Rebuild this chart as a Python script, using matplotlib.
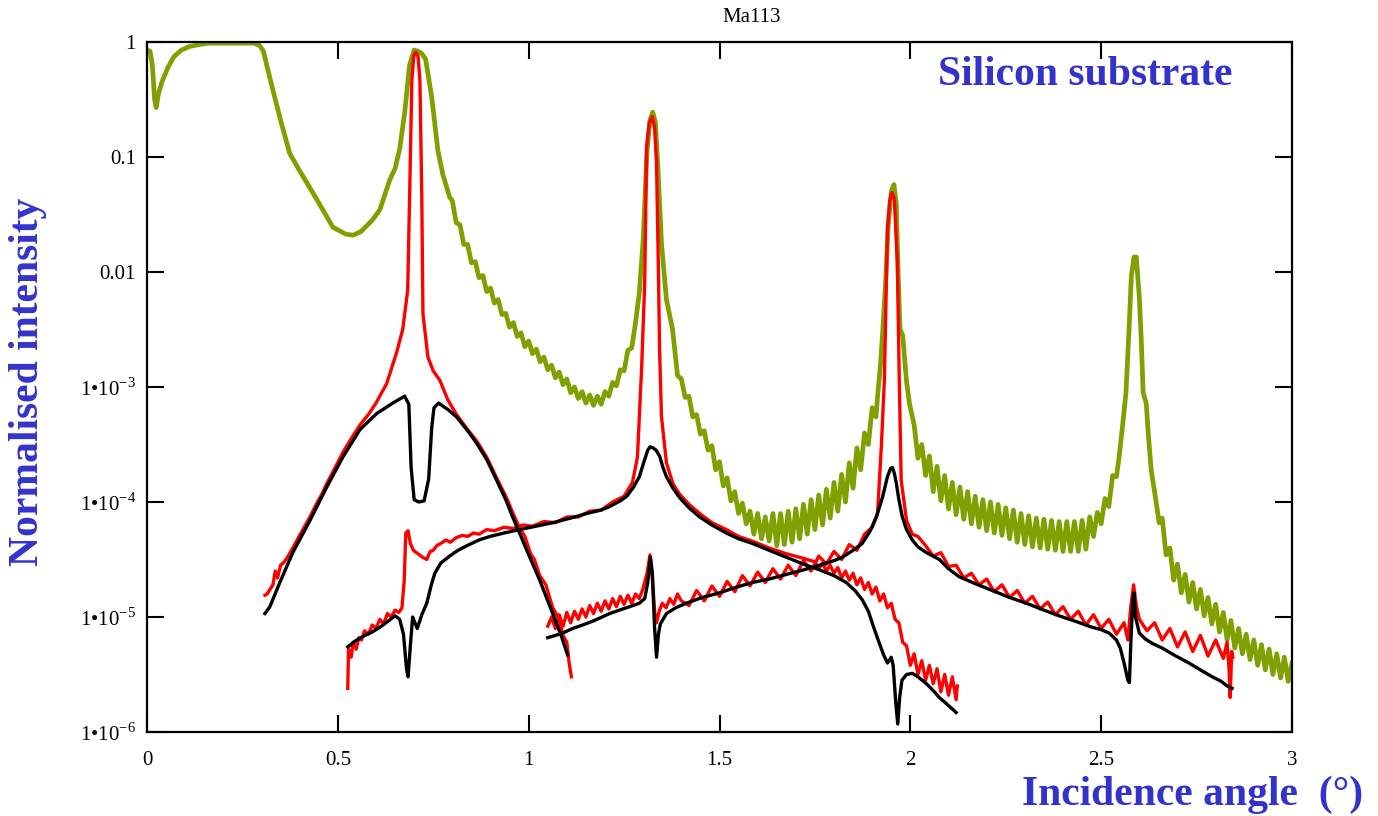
import matplotlib
matplotlib.use("Agg")
import matplotlib.pyplot as plt
from matplotlib.ticker import NullLocator
import numpy as np

plt.rcParams["font.family"] = ["Liberation Serif", "DejaVu Serif"]
plt.rcParams["mathtext.fontset"] = "custom"
plt.rcParams["mathtext.rm"] = "Liberation Serif"

# ---- data (angle in degrees, intensity as log10) ----

# silicon substrate reflectivity (green), smooth part up to the first Bragg peak
green_x0 = [0.000, 0.008, 0.014, 0.020, 0.024, 0.030, 0.040, 0.055, 0.070, 0.090,
            0.110, 0.140, 0.160, 0.280, 0.295, 0.305, 0.315, 0.330, 0.350, 0.374,
            0.400, 0.445, 0.487, 0.520, 0.540, 0.560, 0.590, 0.610, 0.636, 0.650,
            0.662, 0.675, 0.688, 0.700, 0.710, 0.720, 0.730, 0.746, 0.762, 0.775,
            0.785, 0.793]
green_log0 = [-0.07, -0.08, -0.20, -0.50, -0.57, -0.45, -0.34, -0.22, -0.13, -0.07,
              -0.04, -0.02, -0.01, -0.01, -0.03, -0.08, -0.22, -0.42, -0.68, -0.97,
              -1.12, -1.37, -1.61, -1.67, -1.68, -1.65, -1.55, -1.46, -1.20, -1.10,
              -0.93, -0.62, -0.20, -0.07, -0.08, -0.10, -0.15, -0.48, -0.94, -1.15,
              -1.26, -1.35]
# fringes 0.80 -> 1.28 (0.01 steps)
green_log1 = [-1.38, -1.57, -1.59, -1.76, -1.76, -1.92, -1.91, -2.05, -2.03, -2.17,
              -2.14, -2.27, -2.24, -2.37, -2.36, -2.48, -2.44, -2.56, -2.53, -2.65,
              -2.60, -2.71, -2.67, -2.78, -2.74, -2.85, -2.81, -2.92, -2.87, -2.98,
              -2.93, -3.05, -3.00, -3.10, -3.04, -3.14, -3.07, -3.16, -3.08, -3.15,
              -3.04, -3.08, -2.96, -2.99, -2.85, -2.86, -2.68, -2.66, -2.44]
green_x2 = [1.290, 1.300, 1.310, 1.318, 1.325, 1.332, 1.338, 1.348, 1.361, 1.377, 1.390]
green_log2 = [-2.18, -1.72, -0.95, -0.68, -0.61, -0.70, -1.05, -1.75, -2.24, -2.50, -2.90]
# fringes 1.40 -> 1.91
green_log3 = [-2.93, -3.09, -3.08, -3.26, -3.24, -3.41, -3.38, -3.55, -3.51, -3.72,
              -3.65, -3.86, -3.79, -3.99, -3.91, -4.10, -4.01, -4.19, -4.08, -4.28,
              -4.10, -4.32, -4.13, -4.34, -4.10, -4.38, -4.10, -4.37, -4.08, -4.35,
              -4.06, -4.32, -4.02, -4.28, -3.98, -4.24, -3.94, -4.20, -3.89, -4.14,
              -3.83, -4.08, -3.76, -4.00, -3.66, -3.88, -3.53, -3.72, -3.40, -3.50,
              -3.18, -3.26]
green_x4 = [1.915, 1.922, 1.928, 1.935, 1.942, 1.950, 1.957, 1.963, 1.968, 1.973,
            1.980, 1.990, 1.998]
green_log4 = [-3.05, -2.80, -2.50, -2.10, -1.60, -1.30, -1.24, -1.40, -2.00, -2.50,
              -2.55, -2.95, -3.15]
# fringes 2.01 -> 2.54
green_log5 = [-3.33, -3.62, -3.50, -3.77, -3.60, -3.91, -3.69, -3.99, -3.77, -4.06,
              -3.83, -4.11, -3.87, -4.15, -3.91, -4.19, -3.95, -4.22, -3.98, -4.25,
              -4.00, -4.27, -4.02, -4.29, -4.05, -4.32, -4.07, -4.35, -4.10, -4.37,
              -4.12, -4.39, -4.14, -4.40, -4.15, -4.41, -4.16, -4.42, -4.17, -4.43,
              -4.17, -4.43, -4.17, -4.43, -4.16, -4.41, -4.13, -4.30, -4.09, -4.19,
              -3.97, -4.04, -3.77, -3.78]
green_x6 = [2.547, 2.555, 2.565, 2.573, 2.579, 2.586, 2.592, 2.600, 2.605, 2.610,
            2.618, 2.624, 2.631, 2.644, 2.652]
green_log6 = [-3.61, -3.37, -3.05, -2.50, -2.04, -1.87, -1.87, -2.22, -2.59, -3.05,
              -3.14, -3.43, -3.72, -4.00, -4.18]
# fringes 2.66 -> 3.00
green_log7 = [-4.14, -4.46, -4.40, -4.68, -4.54, -4.79, -4.63, -4.87, -4.70, -4.93,
              -4.76, -4.99, -4.83, -5.06, -4.89, -5.13, -4.96, -5.20, -5.03, -5.27,
              -5.10, -5.32, -5.15, -5.37, -5.20, -5.42, -5.24, -5.46, -5.28, -5.50,
              -5.32, -5.53, -5.35, -5.56, -5.40]

# first order scan: measured (red) and simulated (black)
red1_x = [0.309, 0.315, 0.322, 0.330, 0.336, 0.342, 0.350, 0.360, 0.370, 0.382,
          0.395, 0.410, 0.427, 0.445, 0.460, 0.471, 0.490, 0.513, 0.535, 0.558,
          0.580, 0.600, 0.628, 0.654, 0.670, 0.683, 0.688, 0.694, 0.699, 0.704,
          0.710, 0.715, 0.720, 0.723, 0.736, 0.750, 0.767, 0.788, 0.811, 0.840,
          0.864, 0.890, 0.916, 0.940, 0.958, 0.975, 0.990, 1.005, 1.015, 1.029,
          1.045, 1.063, 1.080, 1.090, 1.100, 1.106, 1.112]
red1_log = [-4.81, -4.80, -4.76, -4.72, -4.60, -4.66, -4.55, -4.52, -4.47, -4.40,
            -4.32, -4.23, -4.13, -4.01, -3.92, -3.84, -3.72, -3.57, -3.45, -3.33,
            -3.24, -3.14, -2.97, -2.70, -2.50, -2.16, -1.35, -0.33, -0.12, -0.09,
            -0.12, -0.33, -1.35, -2.36, -2.74, -2.86, -2.94, -3.11, -3.24, -3.37,
            -3.47, -3.61, -3.79, -3.95, -4.09, -4.22, -4.30, -4.45, -4.50, -4.64,
            -4.72, -4.92, -5.02, -5.16, -5.22, -5.40, -5.52]
black1_x = [0.309, 0.322, 0.348, 0.382, 0.427, 0.471, 0.513, 0.558, 0.602, 0.644,
            0.675, 0.686, 0.692, 0.700, 0.712, 0.726, 0.738, 0.746, 0.752, 0.764,
            0.790, 0.811, 0.840, 0.864, 0.890, 0.916, 0.940, 0.958, 0.980, 0.995,
            1.029, 1.063, 1.086, 1.102]
black1_log = [-4.97, -4.91, -4.70, -4.44, -4.16, -3.87, -3.61, -3.37, -3.23, -3.14,
              -3.08, -3.15, -3.70, -3.98, -4.00, -3.99, -3.80, -3.35, -3.18, -3.14,
              -3.20, -3.26, -3.38, -3.49, -3.63, -3.81, -3.98, -4.13, -4.30, -4.42,
              -4.68, -4.97, -5.17, -5.33]

# second order scan
red2_x = [0.526, 0.528, 0.535, 0.540, 0.548, 0.555, 0.562, 0.570, 0.580, 0.590,
          0.600, 0.610, 0.620, 0.630, 0.640, 0.650, 0.660, 0.668, 0.674, 0.678,
          0.684, 0.690, 0.698, 0.710, 0.722, 0.733, 0.742, 0.750, 0.759, 0.770,
          0.783, 0.795, 0.810, 0.827, 0.840, 0.855, 0.870, 0.890, 0.910, 0.935,
          0.960, 0.985, 1.010, 1.040, 1.070, 1.100, 1.130, 1.160, 1.190, 1.220,
          1.250, 1.272, 1.285, 1.296, 1.304, 1.309, 1.316, 1.324, 1.330, 1.335,
          1.340, 1.343, 1.348, 1.361, 1.378, 1.395, 1.420, 1.448, 1.480, 1.518,
          1.550, 1.586, 1.630, 1.675, 1.720, 1.750, 1.760, 1.770, 1.780, 1.790,
          1.800, 1.810, 1.820, 1.830, 1.840, 1.850, 1.860, 1.870, 1.880, 1.890,
          1.900, 1.910, 1.920, 1.930, 1.940, 1.950, 1.960, 1.970, 1.980, 1.990,
          2.000, 2.010, 2.020, 2.030, 2.040, 2.050, 2.060, 2.070, 2.080, 2.090,
          2.100, 2.110, 2.120, 2.123]
red2_log = [-5.62, -5.28, -5.35, -5.22, -5.28, -5.18, -5.20, -5.12, -5.15, -5.07,
            -5.10, -5.02, -5.06, -4.97, -5.00, -4.94, -4.96, -4.92, -4.68, -4.27,
            -4.25, -4.36, -4.42, -4.45, -4.48, -4.50, -4.43, -4.42, -4.38, -4.36,
            -4.33, -4.35, -4.31, -4.29, -4.30, -4.27, -4.28, -4.24, -4.25, -4.22,
            -4.23, -4.20, -4.21, -4.17, -4.18, -4.13, -4.13, -4.08, -4.07, -4.00,
            -3.95, -3.83, -3.61, -2.83, -2.10, -0.91, -0.70, -0.65, -0.75, -1.05,
            -2.00, -2.68, -3.26, -3.66, -3.84, -3.93, -4.02, -4.10, -4.18, -4.24,
            -4.30, -4.34, -4.40, -4.45, -4.49, -4.52, -4.58, -4.53, -4.60, -4.55,
            -4.62, -4.57, -4.66, -4.60, -4.68, -4.62, -4.72, -4.66, -4.76, -4.70,
            -4.80, -4.74, -4.86, -4.80, -4.92, -4.88, -5.02, -5.05, -5.22, -5.25,
            -5.42, -5.32, -5.50, -5.38, -5.55, -5.42, -5.58, -5.45, -5.65, -5.50,
            -5.68, -5.52, -5.72, -5.60]
black2_x = [0.526, 0.545, 0.565, 0.590, 0.610, 0.630, 0.650, 0.662, 0.672, 0.680,
            0.684, 0.690, 0.696, 0.702, 0.708, 0.720, 0.733, 0.745, 0.754, 0.770,
            0.793, 0.815, 0.838, 0.870, 0.898, 0.935, 0.976, 1.020, 1.063, 1.110,
            1.152, 1.190, 1.212, 1.240, 1.257, 1.275, 1.290, 1.302, 1.312, 1.318,
            1.326, 1.334, 1.343, 1.352, 1.361, 1.378, 1.395, 1.420, 1.448, 1.480,
            1.518, 1.550, 1.586, 1.630, 1.675, 1.720, 1.762, 1.800, 1.832, 1.855,
            1.874, 1.890, 1.905, 1.919, 1.930, 1.940, 1.950, 1.955, 1.962, 1.967,
            1.972, 1.978, 1.990, 2.005, 2.020, 2.042, 2.060, 2.076, 2.100, 2.120]
black2_log = [-5.26, -5.21, -5.17, -5.13, -5.09, -5.04, -4.99, -5.02, -5.15, -5.45,
              -5.52, -5.25, -5.00, -5.05, -5.10, -4.98, -4.88, -4.72, -4.62, -4.53,
              -4.47, -4.42, -4.38, -4.33, -4.30, -4.27, -4.24, -4.21, -4.18, -4.14,
              -4.10, -4.07, -4.04, -3.99, -3.95, -3.87, -3.78, -3.65, -3.55, -3.52,
              -3.53, -3.55, -3.60, -3.70, -3.78, -3.88, -3.96, -4.05, -4.13, -4.20,
              -4.27, -4.32, -4.36, -4.42, -4.48, -4.54, -4.59, -4.64, -4.70, -4.77,
              -4.85, -4.95, -5.10, -5.23, -5.33, -5.40, -5.35, -5.42, -5.75, -5.93,
              -5.70, -5.55, -5.50, -5.49, -5.52, -5.58, -5.64, -5.70, -5.77, -5.83]

# third order scan
red3_x = [1.050, 1.060, 1.070, 1.080, 1.090, 1.100, 1.110, 1.120, 1.130, 1.140,
          1.150, 1.160, 1.170, 1.180, 1.190, 1.200, 1.210, 1.220, 1.230, 1.240,
          1.250, 1.260, 1.270, 1.280, 1.290, 1.300, 1.310, 1.318, 1.324, 1.330,
          1.335, 1.342, 1.350, 1.360, 1.370, 1.380, 1.390, 1.400, 1.420, 1.440,
          1.460, 1.480, 1.500, 1.520, 1.540, 1.560, 1.580, 1.600, 1.620, 1.640,
          1.660, 1.680, 1.700, 1.720, 1.740, 1.760, 1.780, 1.800, 1.820, 1.840,
          1.860, 1.880, 1.900, 1.914, 1.924, 1.932, 1.940, 1.946, 1.952, 1.958,
          1.966, 1.971, 1.976, 1.990, 2.005, 2.020, 2.040, 2.060, 2.080, 2.100,
          2.120, 2.140, 2.160, 2.180, 2.200, 2.220, 2.240, 2.260, 2.280, 2.300,
          2.320, 2.340, 2.360, 2.380, 2.400, 2.420, 2.440, 2.460, 2.480, 2.500,
          2.520, 2.540, 2.560, 2.570, 2.578, 2.585, 2.592, 2.600, 2.620, 2.640,
          2.660, 2.680, 2.700, 2.720, 2.740, 2.760, 2.780, 2.800, 2.820, 2.830,
          2.835, 2.838, 2.842, 2.845]
red3_log = [-5.08, -5.00, -5.10, -4.98, -5.08, -4.96, -5.05, -4.95, -5.02, -4.93,
            -5.00, -4.90, -4.97, -4.88, -4.95, -4.86, -4.93, -4.84, -4.91, -4.82,
            -4.89, -4.81, -4.88, -4.80, -4.84, -4.75, -4.62, -4.46, -4.65, -4.95,
            -5.05, -4.95, -4.88, -4.92, -4.84, -4.89, -4.80, -4.86, -4.90, -4.77,
            -4.86, -4.73, -4.82, -4.69, -4.78, -4.64, -4.73, -4.61, -4.70, -4.58,
            -4.67, -4.55, -4.64, -4.51, -4.60, -4.47, -4.54, -4.43, -4.50, -4.37,
            -4.42, -4.28, -4.22, -4.10, -3.52, -2.94, -1.63, -1.38, -1.31, -1.36,
            -1.92, -2.94, -3.81, -4.16, -4.28, -4.30, -4.38, -4.47, -4.44, -4.56,
            -4.55, -4.66, -4.62, -4.72, -4.67, -4.78, -4.72, -4.83, -4.77, -4.88,
            -4.82, -4.93, -4.87, -4.98, -4.91, -5.02, -4.95, -5.07, -4.98, -5.10,
            -5.02, -5.15, -5.05, -5.20, -4.90, -4.72, -4.90, -5.02, -5.12, -5.05,
            -5.20, -5.10, -5.26, -5.13, -5.30, -5.16, -5.34, -5.20, -5.36, -5.22,
            -5.45, -5.70, -5.30, -5.35]
black3_x = [1.050, 1.070, 1.089, 1.115, 1.141, 1.165, 1.186, 1.212, 1.238, 1.265,
            1.290, 1.304, 1.312, 1.319, 1.324, 1.330, 1.335, 1.340, 1.345, 1.361,
            1.385, 1.413, 1.455, 1.500, 1.545, 1.586, 1.630, 1.675, 1.720, 1.762,
            1.800, 1.822, 1.850, 1.874, 1.895, 1.911, 1.927, 1.940, 1.948, 1.953,
            1.958, 1.963, 1.970, 1.979, 1.990, 2.005, 2.020, 2.042, 2.076, 2.100,
            2.128, 2.170, 2.215, 2.260, 2.304, 2.350, 2.390, 2.435, 2.477, 2.500,
            2.521, 2.540, 2.550, 2.560, 2.570, 2.574, 2.578, 2.583, 2.586, 2.590,
            2.600, 2.615, 2.634, 2.660, 2.696, 2.730, 2.760, 2.791, 2.815, 2.830,
            2.843]
black3_log = [-5.18, -5.16, -5.14, -5.10, -5.07, -5.04, -5.01, -4.97, -4.94, -4.91,
              -4.88, -4.84, -4.70, -4.48, -4.62, -5.10, -5.35, -5.15, -5.06, -4.97,
              -4.92, -4.88, -4.83, -4.79, -4.74, -4.70, -4.67, -4.63, -4.59, -4.55,
              -4.51, -4.48, -4.42, -4.36, -4.25, -4.13, -3.96, -3.78, -3.71, -3.70,
              -3.75, -3.83, -3.98, -4.13, -4.24, -4.33, -4.39, -4.44, -4.50, -4.58,
              -4.65, -4.71, -4.77, -4.83, -4.88, -4.94, -4.99, -5.04, -5.09, -5.11,
              -5.14, -5.20, -5.27, -5.40, -5.55, -5.57, -5.20, -4.85, -4.79, -5.00,
              -5.14, -5.19, -5.23, -5.27, -5.34, -5.40, -5.46, -5.52, -5.56, -5.60,
              -5.62]

x_ticks = [0, 0.5, 1, 1.5, 2, 2.5, 3]
x_tick_labels = ["0", "0.5", "1", "1.5", "2", "2.5", "3"]
y_ticks = [1e-6, 1e-5, 1e-4, 1e-3, 1e-2, 1e-1, 1]
y_tick_labels = [r"1•10$^{\mathregular{-6}}$", r"1•10$^{\mathregular{-5}}$",
                 r"1•10$^{\mathregular{-4}}$", r"1•10$^{\mathregular{-3}}$",
                 "0.01", "0.1", "1"]

GREEN = "#80a000"
RED = "#ff0000"
BLUE = "#3333cc"


def green_curve():
    """Stitch the smooth parts and the fringe parts (sampled every 0.01 deg)."""
    parts_x = [
        np.array(green_x0),
        np.linspace(0.80, 1.28, len(green_log1)),
        np.array(green_x2),
        np.linspace(1.40, 1.91, len(green_log3)),
        np.array(green_x4),
        np.linspace(2.01, 2.54, len(green_log5)),
        np.array(green_x6),
        np.linspace(2.66, 3.00, len(green_log7)),
    ]
    parts_y = [green_log0, green_log1, green_log2, green_log3,
               green_log4, green_log5, green_log6, green_log7]
    x = np.concatenate(parts_x)
    y = 10 ** np.concatenate([np.array(p) for p in parts_y])
    return x, y


fig = plt.figure(figsize=(13.78, 8.16), dpi=100)
ax = fig.add_axes([147 / 1378, 1 - 732 / 816, (1292 - 147) / 1378, (732 - 42) / 816])

gx, gy = green_curve()
ax.plot(gx, gy, color=GREEN, lw=3.4, solid_joinstyle="round")

for xs, ls in [(red1_x, red1_log), (red2_x, red2_log), (red3_x, red3_log)]:
    ax.plot(xs, 10 ** np.array(ls), color=RED, lw=2.4)
for xs, ls in [(black1_x, black1_log), (black2_x, black2_log), (black3_x, black3_log)]:
    ax.plot(xs, 10 ** np.array(ls), color="black", lw=2.4)

ax.set_yscale("log")
ax.set_xlim(0, 3)
ax.set_ylim(1e-6, 1)
ax.set_xticks(x_ticks)
ax.set_xticklabels(x_tick_labels)
ax.set_yticks(y_ticks)
ax.set_yticklabels(y_tick_labels)
ax.yaxis.set_minor_locator(NullLocator())
ax.tick_params(which="both", direction="in", length=12.5, width=1.5,
               top=True, right=True, labelsize=15)
ax.tick_params(axis="x", pad=14)
ax.tick_params(axis="y", pad=8)
for sp in ax.spines.values():
    sp.set_linewidth(1.6)

fig.text(752 / 1378, 1 - 17 / 816, "Ma113", ha="center", va="center", fontsize=15)
fig.text(28 / 1378, 1 - 382 / 816, "Normalised intensity", rotation=90,
         ha="center", va="center", fontsize=30, fontweight="bold", color=BLUE)
fig.text(1022 / 1378, 1 - 795 / 816, "Incidence angle  (°)", ha="left",
         va="center", fontsize=30, fontweight="bold", color=BLUE)
fig.text(938 / 1378, 1 - 75 / 816, "Silicon substrate", ha="left", va="center",
         fontsize=30, fontweight="bold", color=BLUE)

fig.savefig("out.png", dpi=100)
